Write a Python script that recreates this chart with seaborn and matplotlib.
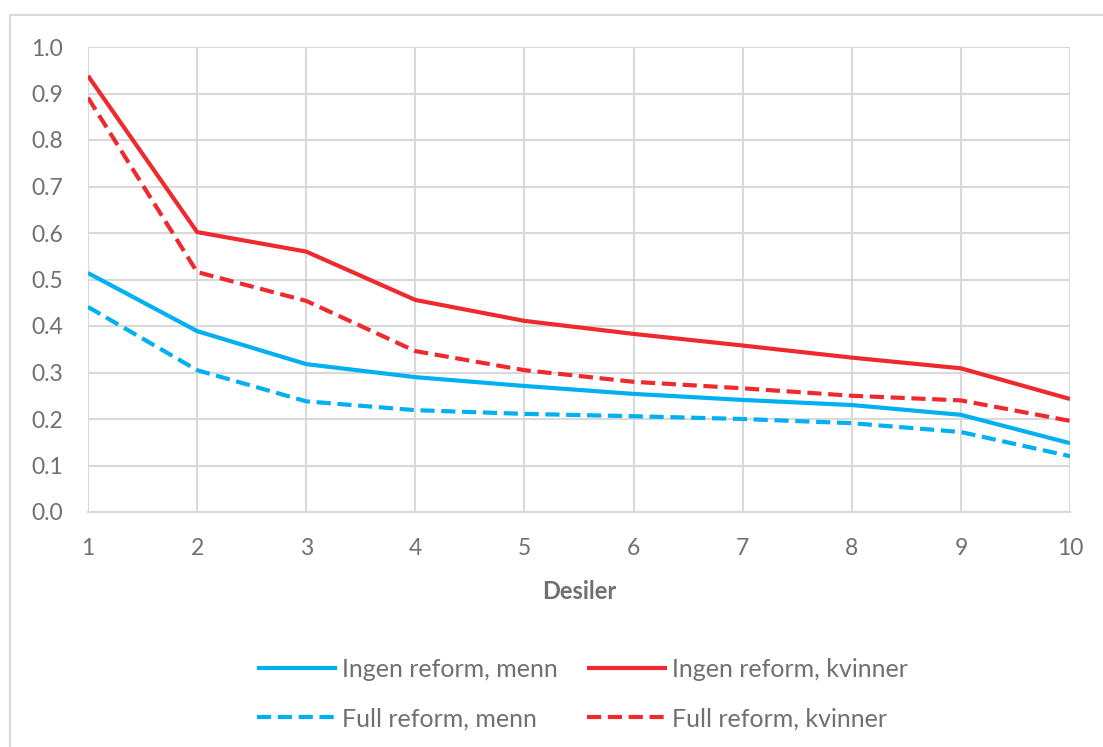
import matplotlib.pyplot as plt
import matplotlib.patches as mpatches
import pandas as pd
import seaborn as sns

desiler = [1, 2, 3, 4, 5, 6, 7, 8, 9, 10]
ingen_menn = [0.514, 0.389, 0.318, 0.290, 0.271, 0.254, 0.241, 0.230, 0.209, 0.148]
ingen_kvinner = [0.938, 0.602, 0.560, 0.456, 0.411, 0.383, 0.358, 0.332, 0.309, 0.243]
full_menn = [0.441, 0.305, 0.238, 0.219, 0.211, 0.206, 0.200, 0.191, 0.172, 0.120]
full_kvinner = [0.891, 0.516, 0.454, 0.346, 0.305, 0.280, 0.266, 0.250, 0.240, 0.196]

series = [
    ("Ingen reform, menn", ingen_menn, "#00B0F0", "-"),
    ("Full reform, menn", full_menn, "#00B0F0", "--"),
    ("Ingen reform, kvinner", ingen_kvinner, "#EE2A2E", "-"),
    ("Full reform, kvinner", full_kvinner, "#EE2A2E", "--"),
]

sns.set_theme(style="white")
plt.rcParams["font.family"] = ["Lato", "DejaVu Sans"]
text_col = "#707070"
grid_col = "#D9D9D9"

fig = plt.figure(figsize=(11.03, 7.47), dpi=100)
fig.patches.append(mpatches.Rectangle((10 / 1103, -0.1), 1.2, (747 - 15) / 747 + 0.1,
                                      transform=fig.transFigure, fill=False,
                                      edgecolor=grid_col, linewidth=1.5))
ax = fig.add_axes([88 / 1103, (747 - 512) / 747, (1070 - 88) / 1103, (512 - 47) / 747])

for name, vals, col, ls in series:
    df = pd.DataFrame({"Desil": desiler, "Andel": vals})
    sns.lineplot(data=df, x="Desil", y="Andel", ax=ax, color=col, linewidth=3, label=name)
    ln = ax.lines[-1]
    if ls == "--":
        ln.set_linestyle((0, (3.4, 1.6)))
    ln.set_solid_capstyle("butt")

ax.set_xlim(1, 10)
ax.set_ylim(0, 1.0)
ax.set_xticks(desiler)
ax.set_yticks([i / 10 for i in range(11)])
ax.set_yticklabels([f"{i / 10:.1f}" for i in range(11)])
ax.grid(True, color=grid_col, linewidth=1.5)
for s in ax.spines.values():
    s.set_visible(False)
ax.spines["bottom"].set_visible(True)
ax.spines["bottom"].set_color(grid_col)
ax.spines["bottom"].set_linewidth(1.5)
ax.tick_params(axis="both", colors=text_col, labelsize=16.5, length=0)
ax.tick_params(axis="x", pad=19)
ax.tick_params(axis="y", pad=18)
ax.set_xlabel("Desiler", fontsize=17, fontweight="bold", color=text_col, labelpad=15)
ax.set_ylabel("")

ax.get_legend().remove()
handles, labels = ax.get_legend_handles_labels()
leg = fig.legend(handles, labels, loc="center", bbox_to_anchor=(0.528, 0.071), ncol=2,
                 frameon=False, fontsize=18, handlelength=3.2, handletextpad=0.2,
                 columnspacing=1.2, labelspacing=1.05)
for t in leg.get_texts():
    t.set_color(text_col)

fig.savefig("out.png", dpi=100)
